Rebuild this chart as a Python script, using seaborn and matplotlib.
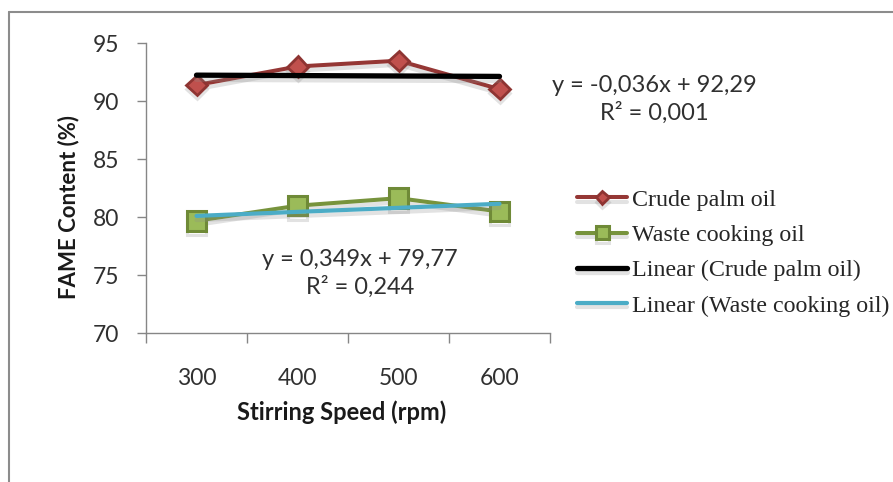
import numpy as np
import matplotlib
matplotlib.use("Agg")
import matplotlib.pyplot as plt
import matplotlib.patheffects as pe
from matplotlib.lines import Line2D
from matplotlib.font_manager import FontProperties
import seaborn as sns

# ---- data ----
speeds = ["300", "400", "500", "600"]
crude_palm = [91.4, 93.0, 93.5, 91.05]
waste_cooking = [79.7, 81.0, 81.65, 80.5]
crude_trend_coef = [-0.036, 92.29]   # slope, intercept (Excel x = 1..n)
waste_trend_coef = [0.349, 79.77]
crude_eq = "y = -0,036x + 92,29\nR² = 0,001"
waste_eq = "y = 0,349x + 79,77\nR² = 0,244"
series_labels = ["Crude palm oil", "Waste cooking oil",
                 "Linear (Crude palm oil)", "Linear (Waste cooking oil)"]
y_ticks = [70, 75, 80, 85, 90, 95]

sns.set_style("white")
plt.rcParams["font.family"] = ["Lato", "DejaVu Sans"]

W, H = 893, 482
fig = plt.figure(figsize=(W / 100, H / 100), dpi=100)
ax = fig.add_axes([146 / W, 1 - 333.3 / H, 404 / W, 290 / H])

xpos = np.arange(len(speeds))
excel_x = xpos + 1
crude_trend = crude_trend_coef[0] * excel_x + crude_trend_coef[1]
waste_trend = waste_trend_coef[0] * excel_x + waste_trend_coef[1]

shadow = [pe.SimpleLineShadow(offset=(0, -3), shadow_color="0.55", alpha=0.25), pe.Normal()]

sns.lineplot(x=xpos, y=crude_palm, ax=ax, color="#953735", lw=2.9,
             marker="D", markersize=10.3, markerfacecolor="#C0504D",
             markeredgecolor="#8E3432", markeredgewidth=2.0,
             label=series_labels[0], path_effects=shadow, zorder=3)
sns.lineplot(x=xpos, y=waste_cooking, ax=ax, color="#77933C", lw=2.9,
             marker="s", markersize=14, markerfacecolor="#9BBB59",
             markeredgecolor="#6F8A37", markeredgewidth=2.2,
             label=series_labels[1], path_effects=shadow, zorder=3)
sns.lineplot(x=xpos, y=crude_trend, ax=ax, color="black", lw=3.8,
             label=series_labels[2], path_effects=shadow, zorder=4)
sns.lineplot(x=xpos, y=waste_trend, ax=ax, color="#4BACC6", lw=3.0,
             label=series_labels[3], path_effects=shadow, zorder=4)

ax.set_xlim(-0.5, len(speeds) - 0.5)
ax.set_ylim(70, 95)
ax.set_yticks(y_ticks)
ax.set_xticks(np.arange(-0.5, len(speeds), 1.0))
ax.set_xticklabels([])
ax.set_xticks(xpos, minor=True)
ax.set_xticklabels(speeds, minor=True)

gray = "#868686"
for s in ["top", "right"]:
    ax.spines[s].set_visible(False)
for s in ["left", "bottom"]:
    ax.spines[s].set_color(gray)
    ax.spines[s].set_linewidth(1.0)
ax.tick_params(axis="y", which="major", direction="out", length=6.5, width=1.0,
               color=gray, pad=13, labelsize=16.5, labelcolor="#303030", left=True)
ax.tick_params(axis="x", which="major", direction="out", length=7, width=1.0,
               color=gray, bottom=True)
ax.tick_params(axis="x", which="minor", length=0, pad=25, labelsize=16.5,
               labelcolor="#303030", bottom=True)
ax.set_xlabel("")
ax.set_ylabel("")

fig.text(69 / W, 1 - 207 / H, "FAME Content (%)", rotation=90, ha="center",
         va="center", fontweight="bold", fontsize=16, color="#1a1a1a")
fig.text(342 / W, 1 - 412 / H, "Stirring Speed (rpm)", ha="center",
         va="center", fontweight="bold", fontsize=17, color="#1a1a1a")

fig.text(654 / W, 1 - 99.5 / H, crude_eq, ha="center", va="center",
         multialignment="center", fontsize=17, color="#303030", linespacing=1.3)
fig.text(360 / W, 1 - 273.5 / H, waste_eq, ha="center", va="center",
         multialignment="center", fontsize=17, color="#303030", linespacing=1.3)

handles, labels = ax.get_legend_handles_labels()
ax.legend(handles, labels, loc="upper left", bbox_to_anchor=(577 / W, 1 - 189 / H),
          bbox_transform=fig.transFigure, frameon=False,
          prop=FontProperties(family="Liberation Serif", size=17.3),
          handlelength=2.1, handletextpad=0.2, labelspacing=0.56,
          borderpad=0, borderaxespad=0, markerscale=0.65)

# outer chart-area border (cropped at right and bottom)
bc = "#8c8c8c"
fig.add_artist(Line2D([8.5 / W, 8.5 / W], [0, 1 - 11.5 / H], transform=fig.transFigure,
                      color=bc, lw=1.5))
fig.add_artist(Line2D([8.5 / W, 1], [1 - 11.5 / H, 1 - 11.5 / H], transform=fig.transFigure,
                      color=bc, lw=1.5))

fig.savefig("out.png", dpi=100)
